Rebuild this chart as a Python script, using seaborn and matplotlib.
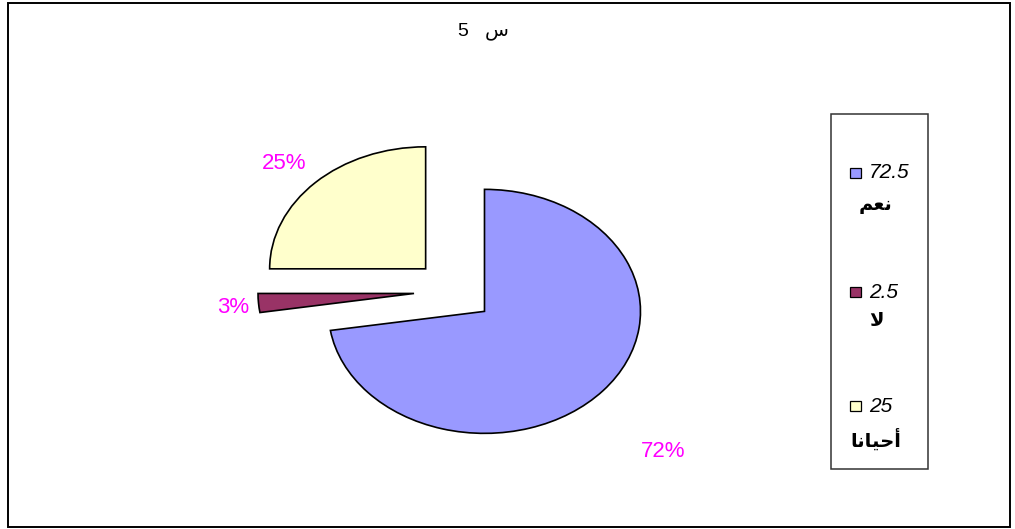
import matplotlib
matplotlib.use("Agg")
import matplotlib.pyplot as plt
from matplotlib.patches import Rectangle
import numpy as np
import seaborn as sns

# ---- data ----
categories = ["نعم", "لا", "أحيانا"]
values = [72.5, 2.5, 25]
value_labels = ["72.5", "2.5", "25"]
pct_labels = ["72%", "3%", "25%"]
colors = ["#9999FF", "#993366", "#FFFFCC"]
title = "س 5"

sns.set_style("white")
plt.rcParams["font.family"] = ["Liberation Sans", "DejaVu Sans"]
plt.rcParams["text.color"] = "black"

# ---- minimal Arabic shaping (matplotlib has no bidi/shaping) ----
FORMS = {
    'ا': ('\uFE8D', '\uFE8E', None, None),
    'أ': ('\uFE83', '\uFE84', None, None),
    'ح': ('\uFEA1', '\uFEA2', '\uFEA3', '\uFEA4'),
    'ي': ('\uFEF1', '\uFEF2', '\uFEF3', '\uFEF4'),
    'ن': ('\uFEE5', '\uFEE6', '\uFEE7', '\uFEE8'),
    'ع': ('\uFEC9', '\uFECA', '\uFECB', '\uFECC'),
    'م': ('\uFEE1', '\uFEE2', '\uFEE3', '\uFEE4'),
    'ل': ('\uFEDD', '\uFEDE', '\uFEDF', '\uFEE0'),
    'س': ('\uFEB1', '\uFEB2', '\uFEB3', '\uFEB4'),
    'لا': ('\uFEFB', '\uFEFC', None, None),
    'لأ': ('\uFEF7', '\uFEF8', None, None),
}


def shape_word(word):
    units = []
    i = 0
    while i < len(word):
        if word[i] == 'ل' and i + 1 < len(word) and word[i + 1] in 'اأ':
            units.append(word[i:i + 2])
            i += 2
        else:
            units.append(word[i])
            i += 1
    out = []
    for k, u in enumerate(units):
        if u not in FORMS:
            out.append(u)
            continue
        f = FORMS[u]
        prev = units[k - 1] if k > 0 else None
        nxt = units[k + 1] if k + 1 < len(units) else None
        jp = prev is not None and prev in FORMS and FORMS[prev][2] is not None
        jn = nxt is not None and nxt in FORMS and f[2] is not None
        if jp and jn:
            out.append(f[3])
        elif jp:
            out.append(f[1])
        elif jn:
            out.append(f[2])
        else:
            out.append(f[0])
    return "".join(reversed(out))


def visual(text):
    toks = text.split(" ")
    res = []
    for t in reversed(toks):
        if any(ch in FORMS or ch == 'أ' for ch in t):
            res.append(shape_word(t))
        else:
            res.append(t)
    return "   ".join(res)


W, H = 1015, 529
fig = plt.figure(figsize=(W / 100, H / 100), dpi=100)
ax = fig.add_axes([0, 0, 1, 1])

# pie geometry (pixels): centre and radii
cx, cy, rx, ry = 454, 291, 156, 122
wedges, _ = ax.pie(values, colors=colors, startangle=90, counterclock=False,
                   explode=[0.257] * 3,
                   wedgeprops=dict(edgecolor="black", linewidth=1.2))
ax.set_aspect("auto")
ax.set_xlim(-cx / rx, (W - cx) / rx)
ax.set_ylim(-(H - cy) / ry, cy / ry)
ax.axis("off")

label_dist = [1.88, 1.42, 1.51]
label_ang_off = [-4, 1, 1]
for w, lab, d, off in zip(wedges, pct_labels, label_dist, label_ang_off):
    ang = np.deg2rad((w.theta1 + w.theta2) / 2 + off)
    ax.text(d * np.cos(ang), d * np.sin(ang), lab, color="#FF00FF",
            fontsize=16, ha="center", va="center")

# title
fig.text(483 / W, 1 - 31 / H, visual(title), fontsize=14, ha="center", va="center")

# outer border
fig.patches.append(Rectangle((8 / W, 2 / H), (1010 - 8) / W, (526 - 2) / H,
                             transform=fig.transFigure, fill=False,
                             edgecolor="black", linewidth=1.4))
# legend box
fig.patches.append(Rectangle((831 / W, (H - 469) / H), 97 / W, 355 / H,
                             transform=fig.transFigure, fill=False,
                             edgecolor="#333333", linewidth=1.1))

val_y = [173, 292, 406]
cat_y = [204, 321, 440]
for c, v, col, yv, yc in zip(categories, value_labels, colors, val_y, cat_y):
    fig.patches.append(Rectangle((850 / W, (H - yv - 5) / H), 11 / W, 10 / H,
                                 transform=fig.transFigure, facecolor=col,
                                 edgecolor="black", linewidth=0.9))
    fig.text(869 / W, 1 - yv / H, v, fontsize=15, style="italic",
             ha="left", va="center")
    fig.text(876 / W, 1 - yc / H, visual(c), fontsize=14, fontweight="bold",
             ha="center", va="center", family=["DejaVu Sans"])

fig.savefig("out.png", dpi=100, facecolor="white")
